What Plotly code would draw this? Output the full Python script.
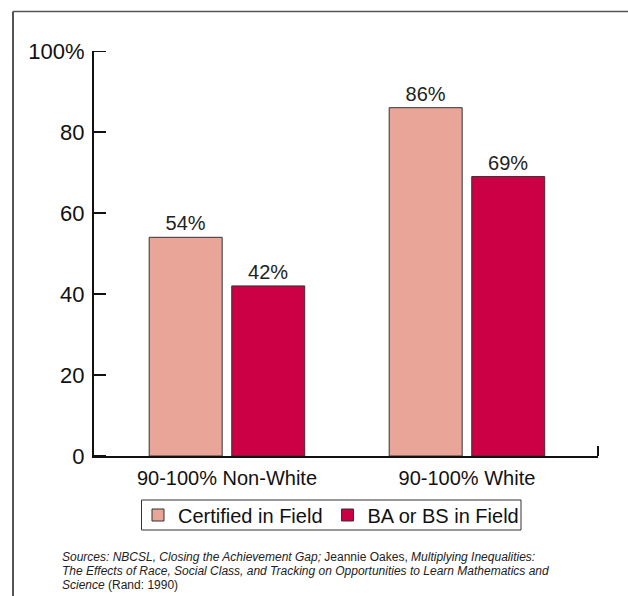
import plotly.graph_objects as go

categories = ["90-100% Non-White", "90-100% White"]
series_names = ["Certified in Field", "BA or BS in Field"]
certified = [54, 86]
ba_bs = [42, 69]
y_ticks = [0, 20, 40, 60, 80, 100]
y_ticktext = ["0", "20", "40", "60", "80", "100%"]
footnote_lines = [
    "<i>Sources: NBCSL, Closing the Achievement Gap;</i> Jeannie Oakes, <i>Multiplying Inequalities:</i>",
    "<i>The Effects of Race, Social Class, and Tracking on Opportunities to Learn Mathematics and</i>",
    "<i>Science</i> (Rand: 1990)",
]

colors = ["#E8A598", "#CC0044"]
FONT = "Liberation Sans, Arial, sans-serif"
xpos = list(range(len(categories)))

fig = go.Figure()
for name, vals, col in zip(series_names, [certified, ba_bs], colors):
    fig.add_trace(go.Bar(
        x=xpos, y=vals, name=name,
        marker=dict(color=col, line=dict(color="#333333", width=1)),
        text=[f"{v}%" for v in vals], textposition="outside",
        textfont=dict(size=20, color="#222222", family=FONT),
        cliponaxis=False,
    ))

W, H = 628, 596
L, R, T, B = 94, 30, 51, 140
pw, ph = W - L - R, H - T - B

def xp(px):
    return (px - L) / pw

def yp(py):
    return (H - B - py) / ph

shapes = [
    dict(type="line", xref="paper", yref="paper", x0=xp(13), x1=xp(640), y0=yp(11.5), y1=yp(11.5),
         line=dict(color="#555555", width=1.5)),
    dict(type="line", xref="paper", yref="paper", x0=xp(13), x1=xp(13), y0=yp(11.5), y1=yp(600),
         line=dict(color="#555555", width=2)),
    # small upward tick at right end of x axis
    dict(type="line", xref="paper", yref="paper", x0=1, x1=1, y0=0, y1=10 / ph,
         line=dict(color="#111111", width=2)),
    # legend frame
    dict(type="rect", xref="paper", yref="paper", x0=xp(141.5), x1=xp(521), y0=yp(500), y1=yp(530),
         line=dict(color="#333333", width=1), fillcolor="rgba(0,0,0,0)"),
]
# inside ticks on y axis
for v in y_ticks:
    shapes.append(dict(type="line", xref="paper", yref="y", x0=0, x1=12 / pw, y0=v, y1=v,
                       line=dict(color="#111111", width=2)))

annotations = []
for i, line in enumerate(footnote_lines):
    annotations.append(dict(text=line, xref="paper", yref="paper", x=xp(60), y=yp(556.7 + 14 * i),
                            xanchor="left", yanchor="middle", align="left", showarrow=False,
                            font=dict(size=12, family=FONT, color="#222222")))

fig.update_layout(
    width=W, height=H, autosize=False,
    margin=dict(l=L, r=R, t=T, b=B),
    paper_bgcolor="white", plot_bgcolor="white",
    font=dict(family=FONT, color="#111111"),
    barmode="group", bargap=0.312, bargroupgap=0.116,
    showlegend=True,
    legend=dict(orientation="h", x=xp(331), xanchor="center", y=yp(515), yanchor="middle",
                font=dict(size=20, family=FONT, color="#111111"),
                borderwidth=0, bgcolor="rgba(0,0,0,0)", traceorder="normal"),
    xaxis=dict(range=[-0.554, -0.554 + pw / 240.0], tickmode="array", tickvals=xpos,
               ticktext=categories, showline=True, linecolor="#111111", linewidth=2,
               ticks="", showgrid=False, zeroline=False,
               tickfont=dict(size=20, family=FONT, color="#111111"), ticklabelstandoff=3),
    yaxis=dict(range=[0, 100], tickmode="array", tickvals=y_ticks, ticktext=y_ticktext,
               showline=True, linecolor="#111111", linewidth=2, ticks="",
               showgrid=False, zeroline=False, ticklabelstandoff=3,
               tickfont=dict(size=22, family=FONT, color="#111111")),
    shapes=shapes,
    annotations=annotations,
)

fig.write_html("out.html")
